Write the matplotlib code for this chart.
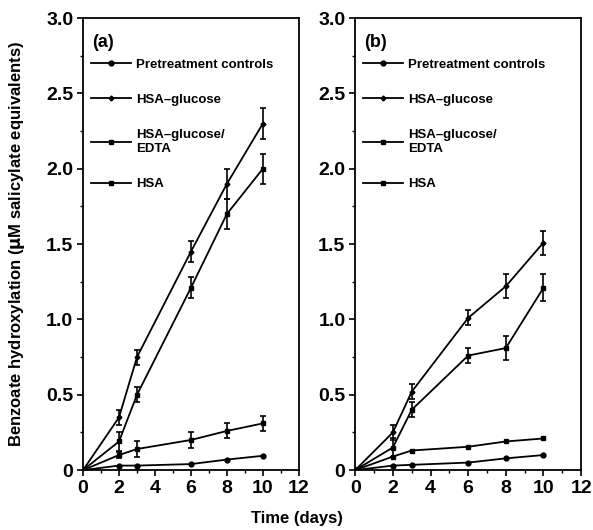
import numpy as np
import matplotlib.pyplot as plt
from matplotlib.ticker import MultipleLocator, FuncFormatter

plt.rcParams['font.family'] = ['Liberation Sans', 'DejaVu Sans']
plt.rcParams['font.weight'] = 'bold'

days = [0, 2, 3, 6, 8, 10]

# panel (a)
a_glucose = [0, 0.35, 0.75, 1.45, 1.90, 2.30]
a_glucose_err = [0, 0.05, 0.05, 0.07, 0.10, 0.10]
a_hsa = [0, 0.19, 0.50, 1.21, 1.70, 2.00]
a_hsa_err = [0, 0.06, 0.05, 0.07, 0.10, 0.10]
a_edta = [0, 0.10, 0.14, 0.20, 0.26, 0.31]
a_edta_err = [0, 0.02, 0.05, 0.05, 0.05, 0.05]
a_control = [0, 0.03, 0.03, 0.04, 0.07, 0.095]

# panel (b)
b_glucose = [0, 0.25, 0.52, 1.01, 1.22, 1.51]
b_glucose_err = [0, 0.05, 0.05, 0.05, 0.08, 0.08]
b_hsa = [0, 0.15, 0.40, 0.76, 0.81, 1.21]
b_hsa_err = [0, 0.06, 0.05, 0.05, 0.08, 0.09]
b_edta = [0, 0.09, 0.13, 0.155, 0.19, 0.21]
b_control = [0, 0.03, 0.035, 0.05, 0.078, 0.10]

labels = ['Pretreatment controls', 'HSA\u2013glucose', 'HSA\u2013glucose/\nEDTA', 'HSA']

fig = plt.figure(figsize=(5.93, 5.30), dpi=100)
ax_a = fig.add_axes([0.140, 0.113, 0.364, 0.853])
ax_b = fig.add_axes([0.599, 0.113, 0.381, 0.853])

kw = dict(color='black', lw=1.3, capsize=2.5, elinewidth=1.2, capthick=1.2)


def draw(ax, glu, glu_e, hsa, hsa_e, edta, edta_e, ctrl, tag):
    h1, = ax.plot(days, ctrl, '-o', color='black', lw=1.3, ms=3.5)
    h2 = ax.errorbar(days, glu, yerr=glu_e, fmt='-D', ms=2.5, **kw).lines[0]
    if edta_e is None:
        h3, = ax.plot(days, edta, '-s', color='black', lw=1.3, ms=3.5)
    else:
        h3 = ax.errorbar(days, edta, yerr=edta_e, fmt='-s', ms=3.5, **kw).lines[0]
    h4 = ax.errorbar(days, hsa, yerr=hsa_e, fmt='-s', ms=3.5, **kw).lines[0]
    ax.set_xlim(0, 12)
    ax.set_ylim(0, 3.0)
    ax.xaxis.set_major_locator(MultipleLocator(2))
    ax.xaxis.set_minor_locator(MultipleLocator(1))
    ax.yaxis.set_major_locator(MultipleLocator(0.5))
    ax.yaxis.set_minor_locator(MultipleLocator(0.25))
    ax.yaxis.set_major_formatter(FuncFormatter(lambda v, p: '0' if v == 0 else f'{v:.1f}'))
    ax.tick_params(which='major', direction='out', length=4, width=1.2, labelsize=14, pad=3)
    ax.tick_params(which='minor', direction='out', length=2.5, width=1.0)
    for s in ax.spines.values():
        s.set_linewidth(1.3)
    ax.text(0.04, 0.965, tag, transform=ax.transAxes, fontsize=13, fontweight='bold',
            va='top', ha='left')
    ax.legend([h1, h2, h3, h4], labels, loc='upper left', bbox_to_anchor=(0.0, 0.928),
              frameon=False, fontsize=9.5, handlelength=3.0, handletextpad=0.4,
              labelspacing=1.75, borderaxespad=0.2)


draw(ax_a, a_glucose, a_glucose_err, a_hsa, a_hsa_err, a_edta, a_edta_err, a_control, '(a)')
draw(ax_b, b_glucose, b_glucose_err, b_hsa, b_hsa_err, b_edta, None, b_control, '(b)')

ax_a.set_ylabel('Benzoate hydroxylation ($\\mathbf{\\mu}$M salicylate equivalents)',
                fontsize=12, fontweight='bold', labelpad=4)
ax_a.yaxis.set_label_coords(-0.26, 0.5)
fig.text(0.5, 0.008, 'Time (days)', ha='center', va='bottom', fontsize=12, fontweight='bold')

fig.savefig('out.png', dpi=100)
